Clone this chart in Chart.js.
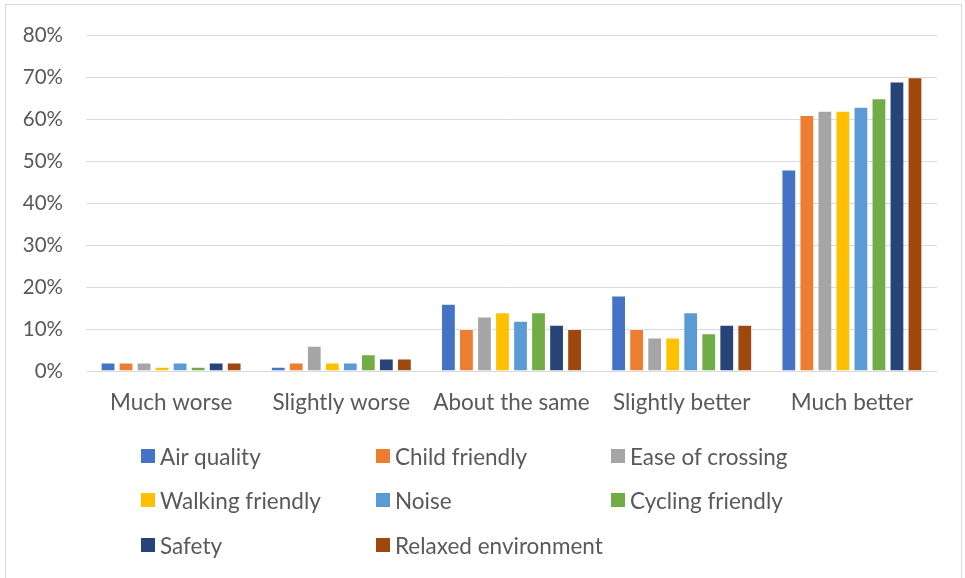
<!DOCTYPE html>
<html><head><meta charset="utf-8">
<script src="https://cdn.jsdelivr.net/npm/chart.js@4/dist/chart.umd.min.js"></script>
<style>
html,body{margin:0;padding:0;background:#fff;}
#wrap{position:relative;width:965px;height:578px;overflow:hidden;}
#frame{position:absolute;left:5px;top:4px;width:957px;height:590px;border:1px solid #d9d9d9;box-sizing:border-box;pointer-events:none;}
#legend{position:absolute;left:0;top:0;width:965px;height:578px;pointer-events:none;font-family:Lato,"Open Sans",sans-serif;font-size:22.5px;color:#595959;}
.li{position:absolute;display:flex;align-items:center;white-space:nowrap;}
.sw{width:14px;height:14px;margin-right:5px;flex:none;}
</style></head>
<body><div id="wrap"><canvas id="c" width="965" height="578"></canvas><div id="frame"></div><div id="legend"></div></div>
<script>
const categories = ["Much worse","Slightly worse","About the same","Slightly better","Much better"];
const seriesNames = ["Air quality","Child friendly","Ease of crossing","Walking friendly","Noise","Cycling friendly","Safety","Relaxed environment"];
const airQuality = [2,1,16,18,48];
const childFriendly = [2,2,10,10,61];
const easeOfCrossing = [2,6,13,8,62];
const walkingFriendly = [1,2,14,8,62];
const noise = [2,2,12,14,63];
const cyclingFriendly = [1,4,14,9,65];
const safety = [2,3,11,11,69];
const relaxedEnvironment = [2,3,10,11,70];
const yTicks = [0,10,20,30,40,50,60,70,80];
const colors = ["#4472C4","#ED7D31","#A5A5A5","#FFC000","#5B9BD5","#70AD47","#264478","#9E480E"];
const seriesValues = [airQuality,childFriendly,easeOfCrossing,walkingFriendly,noise,cyclingFriendly,safety,relaxedEnvironment];

const font = "Lato";
const chart = new Chart(document.getElementById('c'), {
  type: 'bar',
  data: {
    labels: categories,
    datasets: seriesNames.map((n,i)=>({
      label:n, data:seriesValues[i], backgroundColor:colors[i],
      borderColor:'rgba(255,255,255,0.4)', borderWidth:1,
      categoryPercentage:0.847, barPercentage:0.82
    }))
  },
  options: {
    responsive:false, animation:false,
    layout:{padding:{top:33,right:28,bottom:157,left:0}},
    plugins:{legend:{display:false},tooltip:{enabled:false}},
    scales:{
      x:{
        grid:{display:false,drawTicks:false},
        border:{display:true,color:'#d9d9d9',width:1},
        ticks:{color:'#595959',font:{family:font,size:22.5},padding:18,maxRotation:0},
        afterFit:(s)=>{s.height=50;}
      },
      y:{
        min:0,max:80,
        afterBuildTicks:(s)=>{s.ticks=yTicks.map(v=>({value:v}));},
        grid:{color:'#d9d9d9',drawTicks:false,lineWidth:1},
        border:{display:false},
        ticks:{color:'#595959',font:{family:font,size:20.5},padding:23,callback:(v)=>v+'%'},
        afterFit:(s)=>{s.width=86;}
      }
    }
  }
});

const leg = document.getElementById('legend');
const colX=[141,376,611], rowY=[456,500,545];
seriesNames.forEach((n,i)=>{
  const d=document.createElement('div');d.className='li';
  d.style.left=colX[i%3]+'px';d.style.top=(rowY[Math.floor(i/3)]-15)+'px';d.style.height='30px';
  d.innerHTML='<span class="sw" style="background:'+colors[i]+'"></span><span>'+n+'</span>';
  leg.appendChild(d);
});
</script></body></html>
